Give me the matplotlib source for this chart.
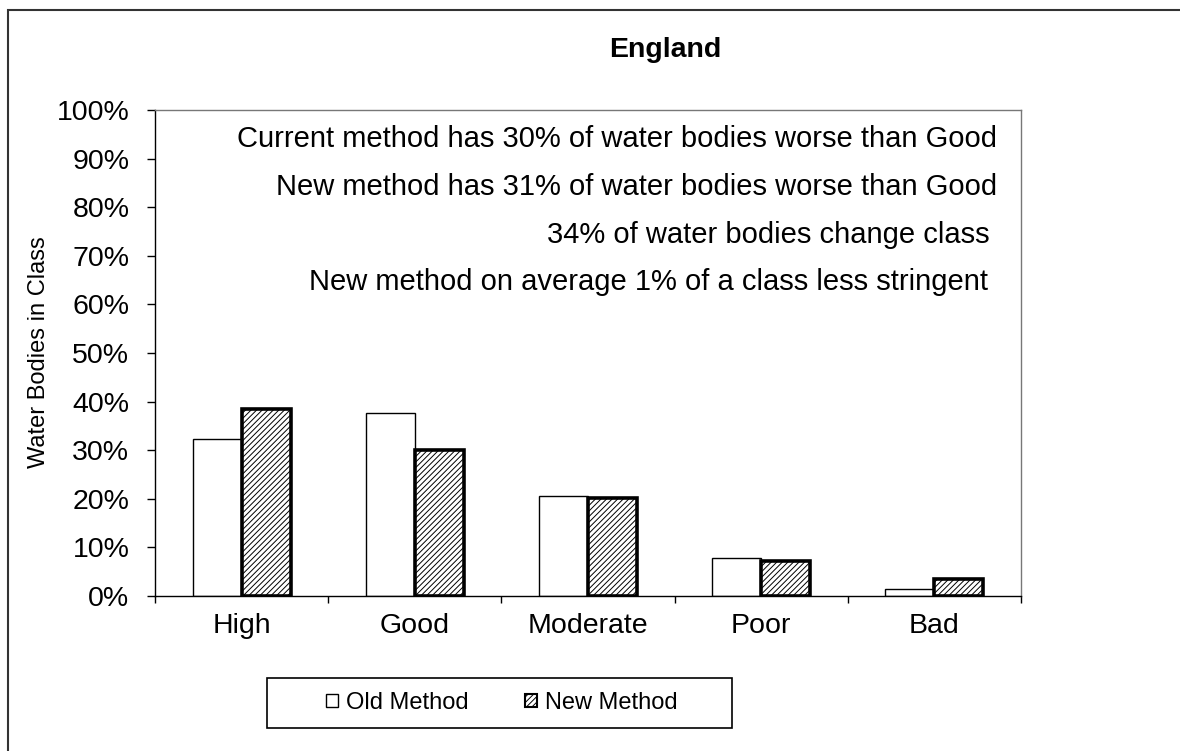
import numpy as np
import matplotlib.pyplot as plt
from matplotlib.patches import Rectangle, Patch
from matplotlib.ticker import PercentFormatter

plt.rcParams['font.family'] = ['Liberation Sans', 'DejaVu Sans']
plt.rcParams['hatch.linewidth'] = 0.7

categories = ["High", "Good", "Moderate", "Poor", "Bad"]
old_method = [32.4, 37.6, 20.5, 7.8, 1.5]
new_method = [38.4, 30.0, 20.2, 7.1, 3.4]
notes = [
    "Current method has 30% of water bodies worse than Good",
    "New method has 31% of water bodies worse than Good",
    "34% of water bodies change class",
    "New method on average 1% of a class less stringent",
]

W, H = 1180, 751
fig = plt.figure(figsize=(W / 100, H / 100), dpi=100)

# outer chart border (left and top edges visible)
fig.add_artist(Rectangle((8 / W, -0.05), 1.2, 1 - 10 / H + 0.05, transform=fig.transFigure,
                         fill=False, edgecolor="#333333", linewidth=1.5))

ax = fig.add_axes([155 / W, 1 - 596 / H, (1021 - 155) / W, (596 - 110) / H])

x = np.arange(len(categories))
bw = 0.283
ax.bar(x - bw / 2, old_method, bw, facecolor="white", edgecolor="black", linewidth=1.0)
ax.bar(x + bw / 2, new_method, bw, facecolor="white", edgecolor="black", linewidth=2.6,
       hatch="//////")

ax.set_xlim(-0.5, len(categories) - 0.5)
ax.set_ylim(0, 100)
ax.set_yticks(np.arange(0, 101, 10))
ax.yaxis.set_major_formatter(PercentFormatter(decimals=0))
ax.tick_params(axis="y", labelsize=20.5, length=6, width=1, pad=12.5)

# category ticks sit between the groups
ax.set_xticks(np.arange(-0.5, len(categories), 1))
ax.set_xticklabels([])
ax.set_xticks(x, minor=True)
ax.set_xticklabels(categories, minor=True, fontsize=20.5)
ax.tick_params(axis="x", which="major", length=5, width=1)
ax.tick_params(axis="x", which="minor", length=0, pad=12)

for s in ["top", "right"]:
    ax.spines[s].set_color("#777777")
    ax.spines[s].set_linewidth(1)
ax.spines["left"].set_linewidth(1)
ax.spines["bottom"].set_linewidth(1)

ax.set_ylabel("Water Bodies in Class", fontsize=17,
              family=["Liberation Sans Narrow", "Liberation Sans"])
ax.yaxis.set_label_coords(50 / W, 1 - 352 / H, transform=fig.transFigure)

fig.text(665 / W, 1 - 50 / H, "England", fontsize=20.5, fontweight="bold",
         ha="center", va="center")

note_y = [139, 187, 235, 282]
note_x = [997, 997, 990, 988]
for t, nx, ny in zip(notes, note_x, note_y):
    fig.text(nx / W, 1 - ny / H, t, fontsize=21, ha="right", va="center")

# legend frame drawn separately so it can be wider than the entries
fig.add_artist(Rectangle((267 / W, 1 - 728 / H), 465 / W, 50 / H, transform=fig.transFigure,
                         fill=False, edgecolor="black", linewidth=1.2))
handles = [Patch(facecolor="white", edgecolor="black", linewidth=1.0, label="Old Method"),
           Patch(facecolor="white", edgecolor="black", linewidth=1.5, hatch="//////",
                 label="New Method")]
fig.legend(handles=handles, loc="center", bbox_to_anchor=(502 / W, 1 - 703 / H), ncol=2,
           frameon=False, fontsize=17, handlelength=0.5, handleheight=0.5,
           handletextpad=0.35, columnspacing=2.4)

fig.savefig("out.png", dpi=100)
